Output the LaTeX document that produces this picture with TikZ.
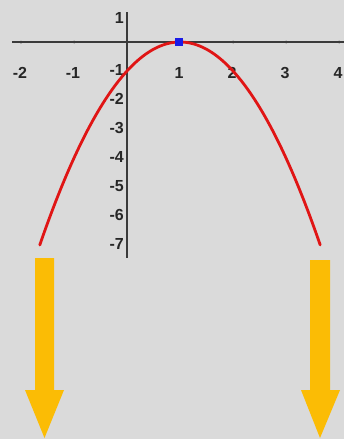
\documentclass[tikz,border=0pt]{standalone}
\usepackage{fontspec}
\setmainfont{Liberation Sans}
\definecolor{bg}{HTML}{DADADA}
\definecolor{axisc}{HTML}{3A3A3A}
\definecolor{curvec}{HTML}{E01515}
\definecolor{dotc}{HTML}{1A1AE6}
\definecolor{arrowc}{HTML}{FBBC05}
\begin{document}
\begin{tikzpicture}[x=1pt,y=-1pt,
  lbl/.style={font=\fontsize{16}{16}\selectfont\bfseries, inner sep=0pt, text=black!85},
  axisline/.style={draw=axisc, line width=1.8pt},
  bigarrow/.style={fill=arrowc, draw=none}]
\fill[bg] (0,0) rectangle (344,439);
\useasboundingbox (0,0) rectangle (344,439);
% axes
\coordinate (xl) at (12,42);
\coordinate (xr) at (344,42);
\coordinate (yt) at (127,12);
\coordinate (yb) at (127,258);
\draw[axisline] (xl) -- (xr);
\draw[axisline, line width=1.5pt] (yt) -- (yb);
% tick dots
\foreach \t in {-2,-1,1,2,3,4}{
  \fill[axisc] ({127+53*\t},42) circle (1.5pt);
}
% x labels
\node[lbl] (xm2) at (20,73) {-2};
\node[lbl] (xm1) at (73,73) {-1};
\node[lbl] (x1) at (179,73) {1};
\node[lbl] (x2) at (232,73) {2};
\node[lbl] (x3) at (285,73) {3};
\node[lbl] (x4) at (338,73) {4};
% y labels
\node[lbl, anchor=east] (y1) at (124,18) {1};
\foreach \k in {1,...,7}{
  \node[lbl, anchor=east] (ym\k) at (124,{42+29*\k-1}) {-\k};
}
% parabola
\draw[curvec, line width=2.8pt, line cap=round] plot[domain=-1.6458:3.6458, samples=90] ({127+53*\x},{42+29*(\x-1)^2});
% vertex
\node[fill=dotc, minimum size=8pt, inner sep=0pt] (vtx) at (179,42) {};
% arrows
\fill[bigarrow] (35,258) -- (54,258) -- (54,390) -- (64,390) -- (44.5,438) -- (25,390) -- (35,390) -- cycle;
\fill[bigarrow] (310,260) -- (330,260) -- (330,390) -- (340,390) -- (320,438) -- (301,390) -- (310,390) -- cycle;
\end{tikzpicture}
\end{document}
